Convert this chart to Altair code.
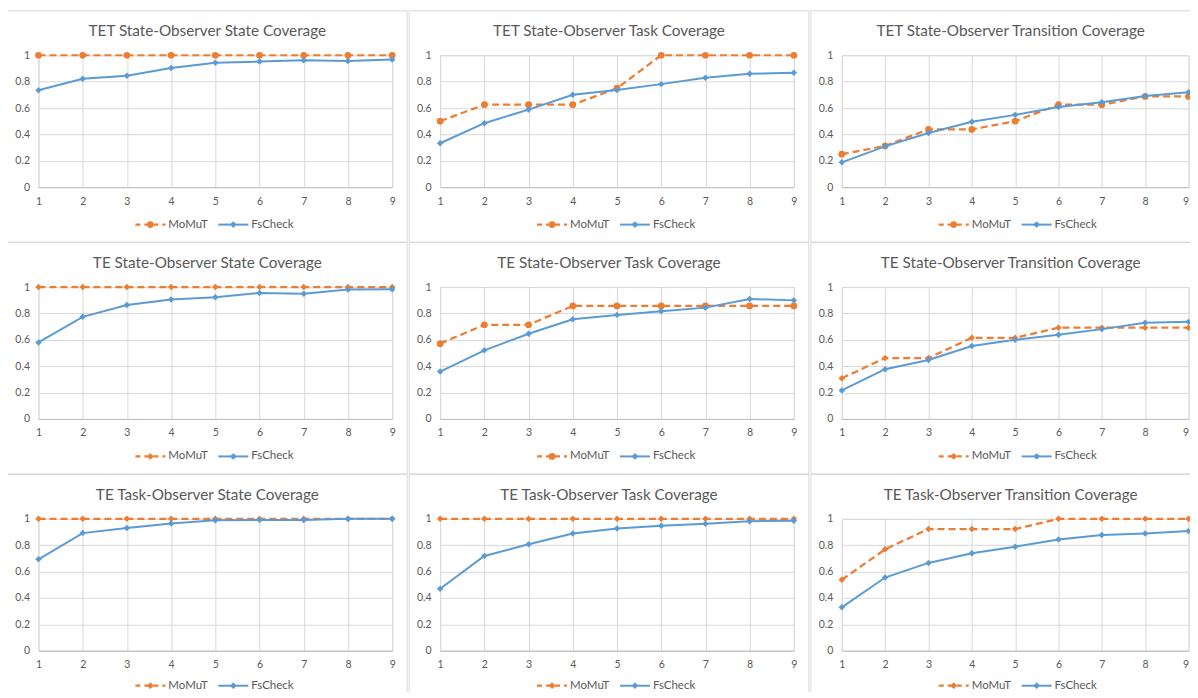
import altair as alt
import pandas as pd

x_vals = [1, 2, 3, 4, 5, 6, 7, 8, 9]
y_ticks = [0, 0.2, 0.4, 0.6, 0.8, 1]
series_names = ["MoMuT", "FsCheck"]

titles = [
    "TET State-Observer State Coverage",
    "TET State-Observer Task Coverage",
    "TET State-Observer Transition Coverage",
    "TE State-Observer State Coverage",
    "TE State-Observer Task Coverage",
    "TE State-Observer Transition Coverage",
    "TE Task-Observer State Coverage",
    "TE Task-Observer Task Coverage",
    "TE Task-Observer Transition Coverage",
]

tet_so_state_momut = [1, 1, 1, 1, 1, 1, 1, 1, 1]
tet_so_state_fscheck = [0.734, 0.822, 0.845, 0.904, 0.943, 0.952, 0.962, 0.957, 0.967]
tet_so_task_momut = [0.5, 0.625, 0.625, 0.625, 0.75, 1, 1, 1, 1]
tet_so_task_fscheck = [0.333, 0.485, 0.588, 0.701, 0.736, 0.781, 0.829, 0.859, 0.867]
tet_so_trans_momut = [0.25, 0.3125, 0.4375, 0.4375, 0.5, 0.625, 0.625, 0.6875, 0.6875]
tet_so_trans_fscheck = [0.188, 0.309, 0.41, 0.495, 0.548, 0.608, 0.643, 0.691, 0.719]

te_so_state_momut = [1, 1, 1, 1, 1, 1, 1, 1, 1]
te_so_state_fscheck = [0.58, 0.774, 0.864, 0.905, 0.922, 0.955, 0.95, 0.982, 0.984]
te_so_task_momut = [0.571, 0.714, 0.714, 0.857, 0.857, 0.857, 0.857, 0.857, 0.857]
te_so_task_fscheck = [0.359, 0.52, 0.646, 0.756, 0.789, 0.817, 0.844, 0.91, 0.899]
te_so_trans_momut = [0.308, 0.462, 0.462, 0.615, 0.615, 0.692, 0.692, 0.692, 0.692]
te_so_trans_fscheck = [0.216, 0.377, 0.447, 0.553, 0.6, 0.638, 0.681, 0.729, 0.736]

te_to_state_momut = [1, 1, 1, 1, 1, 1, 1, 1, 1]
te_to_state_fscheck = [0.693, 0.892, 0.93, 0.965, 0.99, 0.992, 0.992, 1.0, 1.0]
te_to_task_momut = [1, 1, 1, 1, 1, 1, 1, 1, 1]
te_to_task_fscheck = [0.47, 0.719, 0.807, 0.889, 0.927, 0.947, 0.962, 0.982, 0.985]
te_to_trans_momut = [0.538, 0.769, 0.923, 0.923, 0.923, 1, 1, 1, 1]
te_to_trans_fscheck = [0.329, 0.555, 0.666, 0.739, 0.789, 0.844, 0.877, 0.889, 0.907]

momut_series = [tet_so_state_momut, tet_so_task_momut, tet_so_trans_momut,
                te_so_state_momut, te_so_task_momut, te_so_trans_momut,
                te_to_state_momut, te_to_task_momut, te_to_trans_momut]
fscheck_series = [tet_so_state_fscheck, tet_so_task_fscheck, tet_so_trans_fscheck,
                  te_so_state_fscheck, te_so_task_fscheck, te_so_trans_fscheck,
                  te_to_state_fscheck, te_to_task_fscheck, te_to_trans_fscheck]
momut_shapes = ["circle", "circle", "circle", "diamond", "circle",
                "diamond", "diamond", "diamond", "diamond"]

ORANGE = "#ED7D31"
BLUE = "#5B9BD5"
TEXT = "#595959"
GRID = "#d9d9d9"
FONT = "Lato"
W, H = 354, 132
W_LAST = 347  # last column squeezed so its right edge stays on the page
DASH = [7, 4]

one = alt.Data(values=[{"a": 1}])


def x_axis(last_col):
    kw = dict(values=x_vals, format="d", ticks=False, tickSize=0, labelPadding=9,
              grid=True, gridColor=GRID, domainColor="#bfbfbf", labelColor=TEXT,
              labelFontSize=10.5, labelFont=FONT, title=None, labelFlush=False)
    if last_col:
        kw["labelAlign"] = {"condition": {"test": "datum.value == 9", "value": "right"},
                            "value": "center"}
    return alt.Axis(**kw)


yaxis = alt.Axis(values=y_ticks, format="~g", ticks=False, tickSize=0, labelPadding=9,
                 domain=False, grid=True, gridColor=GRID, labelColor=TEXT,
                 labelFontSize=10.5, labelFont=FONT, title=None)
xs = alt.Scale(domain=[1, 9], nice=False, zero=False)
ys = alt.Scale(domain=[0, 1], nice=False, zero=True)


def panel(title, mom, fs, mshape, row, col):
    last = col == 2
    dm = pd.DataFrame({"x": x_vals, "v": mom})
    dfs = pd.DataFrame({"x": x_vals, "v": fs})
    xaxis = x_axis(last)
    enc = dict(x=alt.X("x:Q", scale=xs, axis=xaxis), y=alt.Y("v:Q", scale=ys, axis=yaxis))

    border = alt.Chart(one).mark_rect(filled=False, stroke=GRID, strokeWidth=1).encode(
        x=alt.value(-31), x2=alt.value(369), y=alt.value(-44.5), y2=alt.value(187))
    ttl = alt.Chart(one).mark_text(font=FONT, fontSize=15.3, color=TEXT,
                                   align="center", baseline="middle").encode(
        x=alt.value(169), y=alt.value(-24), text=alt.value(title))

    m_line = alt.Chart(dm).mark_line(color=ORANGE, strokeWidth=2.25, strokeDash=DASH).encode(**enc)
    m_pts = alt.Chart(dm).mark_point(shape=mshape, filled=True, opacity=1, color=ORANGE,
                                     size=45 if mshape == "circle" else 42).encode(**enc)
    f_line = alt.Chart(dfs).mark_line(color=BLUE, strokeWidth=2).encode(**enc)
    f_pts = alt.Chart(dfs).mark_point(shape="diamond", filled=True, opacity=1, color=BLUE,
                                      size=42).encode(**enc)

    ly = 169.5 if row < 2 else 167
    leg = []
    for i, (name, colr, dash, shp) in enumerate([
            (series_names[0], ORANGE, DASH, mshape),
            (series_names[1], BLUE, None, "diamond")]):
        x0 = 97 + i * 83
        rule_kw = dict(color=colr, strokeWidth=2.25 if i == 0 else 2)
        if dash:
            rule_kw["strokeDash"] = [5, 4]
        leg.append(alt.Chart(one).mark_rule(**rule_kw).encode(
            x=alt.value(x0), x2=alt.value(x0 + 30), y=alt.value(ly)))
        leg.append(alt.Chart(one).mark_point(shape=shp, filled=True, opacity=1, color=colr,
                                             size=45).encode(
            x=alt.value(x0 + 15), y=alt.value(ly)))
        leg.append(alt.Chart(one).mark_text(font=FONT, fontSize=11.5, color=TEXT,
                                            align="left", baseline="middle").encode(
            x=alt.value(x0 + 33), y=alt.value(ly), text=alt.value(name)))

    return alt.layer(border, ttl, m_line, m_pts, f_line, f_pts, *leg).properties(
        width=W_LAST if last else W, height=H)


panels = [panel(titles[i], momut_series[i], fscheck_series[i], momut_shapes[i],
                i // 3, i % 3)
          for i in range(9)]

chart = alt.concat(*panels, columns=3, spacing={"row": 100, "column": 48},
                   bounds="flush").properties(
    padding={"left": -1.5, "top": 1, "right": -21.5, "bottom": -15.5}
).configure_view(stroke=None).configure(background="white")

chart.save("out.html", embed_options={"renderer": "svg", "actions": False})
